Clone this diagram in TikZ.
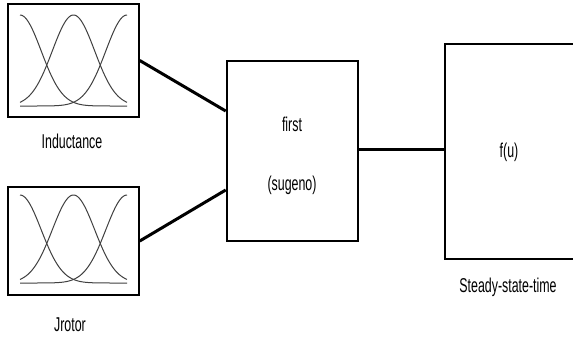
\documentclass[tikz,border=0pt]{standalone}
\usepackage{fontspec}
\newfontfamily\labfont[FakeStretch=0.62]{Liberation Sans}
\newcommand\mfcurves[2]{% #1 top y, #2 base y
  \foreach \c in {20,73.5,127}{%
    \draw[mf] plot[domain=20:127,samples=90,smooth] (\x,{#2-(#2-#1)*exp(-((\x-\c)^2)/894)});
  }}
\begin{document}
\begin{tikzpicture}[x=1pt,y=-1pt,
  inbox/.style={draw=black,line width=1.5pt,minimum width=131pt,inner sep=0pt},
  fisbox/.style={draw=black,line width=2.6pt,minimum width=131pt,minimum height=180pt,inner sep=0pt},
  outbox/.style={draw=black,line width=2.2pt,minimum width=200pt,minimum height=215pt,inner sep=0pt},
  conn/.style={draw=black,line width=3pt},
  mf/.style={draw=black!75,line width=1pt},
  lab/.style={font=\labfont\fontsize{20}{23}\selectfont,inner sep=0pt}]
\clip (0,0) rectangle (573,338);
\useasboundingbox (0,0) rectangle (573,338);
\fill[white] (0,0) rectangle (573,338);

% input boxes
\node[inbox,minimum height=113pt] (ind) at (73.5,60.5) {};
\node[inbox,minimum height=108pt] (jro) at (73.5,241) {};
\mfcurves{15}{106}
\mfcurves{195}{283}
\node[lab] (lind) at (72,141) {Inductance};
\node[lab] (ljro) at (70,325) {Jrotor};

% FIS box
\node[fisbox] (fis) at (292.5,151) {};
\node[lab] (tfirst) at (292,124) {first};
\node[lab] (tsug) at (292,185) {(sugeno)};

% output box
\node[outbox] (out) at (545,151.5) {};
\node[lab] (tfu) at (509,152) {f(u)};
\node[lab] (lout) at (508,287) {Steady-state-time};

% connectors
\draw[conn] (ind.east) -- (fis.west |- 0,111);
\draw[conn] (jro.east) -- (fis.west |- 0,190);
\draw[conn] (fis.east |- 0,149) -- (out.west |- 0,149);
\end{tikzpicture}
\end{document}
